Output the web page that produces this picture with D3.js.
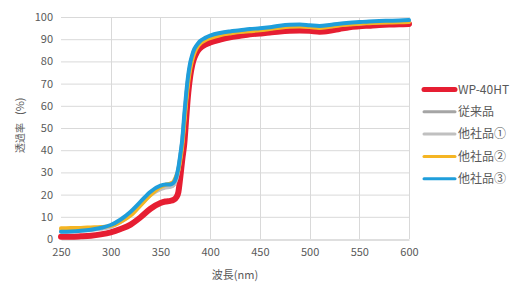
<!DOCTYPE html>
<html lang="ja">
<head>
<meta charset="UTF-8">
<title>透過率</title>
<script src="https://d3js.org/d3.v7.min.js"></script>
<style>
    body { margin: 0; background: #fff; }
    svg text { font-family: "Noto Sans CJK JP", "Noto Sans", sans-serif; fill: #595959; }
    .grid line { stroke: #d9d9d9; stroke-width: 1; }
    .tick text { font-size: 11px; }
    .legend text { font-size: 12px; }
</style>
</head>
<body>
<div id="chart"></div>
<script>
    // wavelength (nm)
    const wavelength = [250,260,270,280,290,300,310,320,330,340,350,355,360,363,366,368,370,372,374,376,378,380,382,384,386,388,390,395,400,410,420,430,440,450,460,470,480,490,500,510,520,530,540,550,560,570,580,590,600];

    const wp40ht = [1.0,1.0,1.2,1.5,2.1,3.0,4.5,6.5,9.8,13.6,16.2,16.9,17.2,17.6,18.8,21,28,36,43,55,66,73.5,78.5,81.5,83.5,85,86,87.5,88.5,89.8,90.8,91.5,92.2,92.6,93.0,93.5,93.8,93.9,93.8,93.4,93.8,94.6,95.4,95.8,96.1,96.4,96.6,96.7,96.9];
    const juraihin = [3.8,3.9,4.0,4.3,4.8,5.8,8.0,11.3,15.8,20.3,23.0,23.6,23.8,24.3,27,31,37,44,54,64,72.5,78,82,84.8,86.5,87.8,88.8,90.2,91.2,92.4,93.1,93.6,94.1,94.5,95.0,95.7,96.1,96.2,95.9,95.6,96.0,96.6,97.0,97.3,97.6,97.8,97.9,98.0,98.2];
    const tasha1 = [3.5,3.6,3.8,4.1,4.6,5.5,7.6,10.9,15.3,19.8,22.5,23.2,23.5,24.2,27,31,37,44,54,64,72.5,78,82,84.8,86.5,87.8,88.8,90.2,91.0,92.2,92.9,93.4,93.9,94.3,94.8,95.5,95.9,96.0,95.7,95.4,95.8,96.4,96.8,97.1,97.4,97.6,97.7,97.8,98.0];
    const tasha2 = [4.8,4.9,5.0,5.2,5.4,5.9,7.8,10.6,15.2,19.8,23.4,24.4,25.0,25.8,28.5,31,35.5,42,52,62,70.5,76.5,80.5,83.5,85.5,87,88,89.5,90.5,91.8,92.6,93.2,93.6,94.0,94.6,95.2,95.6,95.7,95.5,95.1,95.6,96.2,96.6,97.0,97.2,97.4,97.5,97.6,97.8];
    const tasha3 = [3.3,3.4,3.7,4.2,5.0,6.3,8.8,12.3,16.8,21.3,24.0,24.5,24.6,25.2,28,32,38,45,56,66,74,79.5,83,85.5,87,88.2,89.2,90.6,91.6,92.8,93.5,94.0,94.6,94.9,95.4,96.1,96.5,96.6,96.3,96.0,96.4,97.0,97.4,97.7,98.0,98.2,98.3,98.4,98.6];

    const seriesNames = ["WP-40HT", "従来品", "他社品①", "他社品②", "他社品③"];
    const xTicks = [250, 300, 350, 400, 450, 500, 550, 600];
    const yTicks = [0, 10, 20, 30, 40, 50, 60, 70, 80, 90, 100];

    const series = [
        { name: seriesNames[0], values: wp40ht, color: "#e61e32", width: 6 },
        { name: seriesNames[1], values: juraihin, color: "#a5a5a5", width: 4 },
        { name: seriesNames[2], values: tasha1, color: "#c0c0c0", width: 4 },
        { name: seriesNames[3], values: tasha2, color: "#f5b523", width: 4 },
        { name: seriesNames[4], values: tasha3, color: "#1f9edb", width: 4 }
    ];

    const width = 525, height = 291;
    const margin = { left: 61, right: 116, top: 17, bottom: 52 };

    const svg = d3.select("#chart").append("svg")
        .attr("width", width)
        .attr("height", height);

    const x = d3.scaleLinear().domain([250, 600]).range([margin.left, width - margin.right]);
    const y = d3.scaleLinear().domain([0, 100]).range([height - margin.bottom, margin.top]);

    // gridlines
    svg.append("g").attr("class", "grid")
        .selectAll("line.h").data(yTicks.slice(1)).enter().append("line")
        .attr("x1", x(250)).attr("x2", x(600))
        .attr("y1", d => y(d) + 0.5).attr("y2", d => y(d) + 0.5);
    svg.append("g").attr("class", "grid")
        .selectAll("line.v").data(xTicks.slice(1)).enter().append("line")
        .attr("x1", d => Math.round(x(d)) + 0.5).attr("x2", d => Math.round(x(d)) + 0.5)
        .attr("y1", y(0)).attr("y2", y(100));

    // axes
    const xAxis = svg.append("g")
        .attr("transform", `translate(0,${y(0) + 0.5})`)
        .call(d3.axisBottom(x).tickValues(xTicks).tickSize(0).tickPadding(9));
    xAxis.select(".domain").attr("stroke", "#bfbfbf");

    const yAxis = svg.append("g")
        .attr("transform", `translate(${margin.left},0)`)
        .call(d3.axisLeft(y).tickValues(yTicks).tickSize(0).tickPadding(8));
    yAxis.select(".domain").remove();

    svg.selectAll(".tick text").attr("fill", "#595959").style("font-size", "11px");

    // lines
    const line = d3.line()
        .x((d, i) => x(wavelength[i]))
        .y(d => y(d))
        .curve(d3.curveMonotoneX);

    svg.append("g").selectAll("path")
        .data(series).enter().append("path")
        .attr("d", d => line(d.values))
        .attr("fill", "none")
        .attr("stroke", d => d.color)
        .attr("stroke-width", d => d.width)
        .attr("stroke-linejoin", "round")
        .attr("stroke-linecap", "round");

    // axis titles
    svg.append("text")
        .attr("x", 235).attr("y", 279)
        .attr("text-anchor", "middle")
        .style("font-size", "11px")
        .text("波長(nm)");

    const yTitle = svg.append("text")
        .attr("transform", "translate(24,153) rotate(-90)")
        .attr("text-anchor", "start");
    yTitle.append("tspan").style("font-size", "10px").text("透過率");
    yTitle.append("tspan").attr("dx", 8).style("font-size", "11px").text("(%)");

    // legend
    const legend = svg.append("g").attr("class", "legend")
        .selectAll("g").data(series).enter().append("g")
        .attr("transform", (d, i) => `translate(424,${89.5 + i * 22.3})`);
    legend.append("line")
        .attr("x1", 0).attr("x2", 31)
        .attr("stroke", d => d.color)
        .attr("stroke-width", d => d.width === 6 ? 5 : 3)
        .attr("stroke-linecap", "round");
    legend.append("text")
        .attr("x", 34).attr("dy", "0.36em")
        .text(d => d.name);
</script>
</body>
</html>
